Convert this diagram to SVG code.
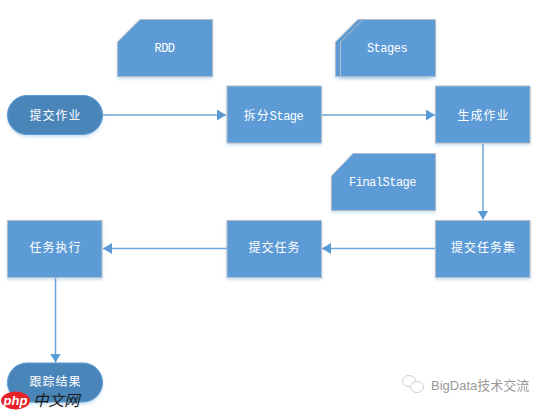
<svg xmlns="http://www.w3.org/2000/svg" width="548" height="410" viewBox="0 0 548 410">
<style>
.n{fill:#5b9bd5;stroke:#b4bcc6;stroke-width:1;filter:url(#s)}
.t{fill:#4a85b8;stroke:#5b9bd5;stroke-width:1;filter:url(#s)}
.l{fill:#fff;font-size:12px;letter-spacing:1px;text-anchor:middle;font-family:"Noto Sans CJK SC","Liberation Mono",monospace}
.m{fill:#fff;font-size:12px;letter-spacing:-.5px;text-anchor:middle;font-family:"Liberation Mono","Noto Sans CJK SC",monospace}
.c{fill:none;stroke:#6fa6d9;stroke-width:1.5;marker-end:url(#a)}
.w{fill:#9a9a9a;font-size:13px;font-family:"Liberation Sans","Noto Sans CJK SC",sans-serif}
</style>
<defs>
<filter id="s" x="-10%" y="-10%" width="120%" height="125%"><feDropShadow dx="0" dy="2" stdDeviation="1.5" flood-color="#5b9bd5" flood-opacity="0.3"/></filter>
<marker id="a" markerUnits="userSpaceOnUse" markerWidth="10" markerHeight="12" refX="9" refY="5.5" orient="auto"><path d="M0 0L9 5.5L0 11Z" fill="#5b9bd5"/></marker>
</defs>
<rect width="548" height="410" fill="#fff"/>
<g id="connectors">
<path class="c" d="M103 115H226"/>
<path class="c" d="M321 115H435"/>
<path class="c" d="M483 143.500V219.500"/>
<path class="c" d="M435.500 248.500H322"/>
<path class="c" d="M227 248.500H103"/>
<path class="c" d="M55.500 277.500V362.500"/>
</g>
<g id="submit-job"><rect class="t" x="7.500" y="95.500" width="95" height="39" rx="19.500"/><text class="l" x="55.500" y="119.500">提交作业</text></g>
<g id="rdd"><path class="n" d="M140 19.500H212.500V76.500H117.500V42Z"/><text class="m" x="164.500" y="52">RDD</text></g>
<g id="stages"><path class="n" d="M358 19.500H430V76.500H335.500V42Z"/><path class="n" d="M363 19.500H435.500V76.500H340.500V42Z"/><text class="m" x="387" y="52">Stages</text></g>
<g id="split-stage"><rect class="n" x="227" y="86" width="94.500" height="57"/><text x="273.500" y="119.500" class="l">拆分<tspan style="font-family:'Liberation Mono',monospace;letter-spacing:-.5px">Stage</tspan></text></g>
<g id="gen-job"><rect class="n" x="435.500" y="86" width="94.500" height="57"/><text class="l" x="483.500" y="119.500">生成作业</text></g>
<g id="final-stage"><path class="n" d="M353 153.500H435.500V210.500H331.500V176Z"/><text class="m" x="382.500" y="186">FinalStage</text></g>
<g id="submit-taskset"><rect class="n" x="435.500" y="220.500" width="94.500" height="57"/><text class="l" x="483.500" y="252">提交任务集</text></g>
<g id="submit-task"><rect class="n" x="227" y="220.500" width="94.500" height="57"/><text class="l" x="274.500" y="252">提交任务</text></g>
<g id="exec-task"><rect class="n" x="7.500" y="220.500" width="94.500" height="57"/><text class="l" x="55.500" y="252">任务执行</text></g>
<g id="track-result"><rect class="t" x="7.500" y="363" width="95" height="39" rx="19.500"/><text class="l" x="55.500" y="386">跟踪结果</text></g>
<g id="watermark-php">
<ellipse cx="15.500" cy="400.500" rx="14.500" ry="9" fill="#e8232a"/>
<text x="15.500" y="404.500" fill="#fff" font-size="13" font-style="italic" font-weight="bold" text-anchor="middle" font-family="Liberation Sans,sans-serif">php</text>
<text x="33" y="406" fill="#1a1a1a" font-size="15.500" font-style="italic" font-family="Noto Sans CJK SC,sans-serif">中文网</text>
</g>
<g id="watermark-wechat" fill="#fff" stroke="#d0d0d0" stroke-width="1">
<ellipse cx="409" cy="381" rx="6.500" ry="5.500"/><ellipse cx="417" cy="387" rx="6.500" ry="5.500"/>
</g>
<text class="w" x="431" y="390">BigData技术交流</text>
</svg>
